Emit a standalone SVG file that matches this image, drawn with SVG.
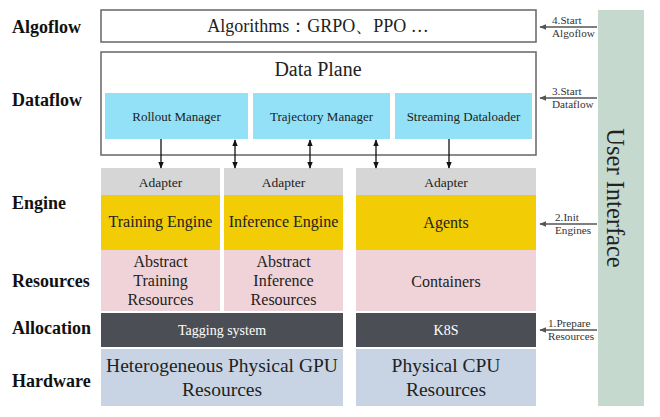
<svg xmlns="http://www.w3.org/2000/svg" width="660" height="417" viewBox="0 0 660 417" font-family="'Liberation Serif','Times New Roman','DejaVu Serif',serif">
<defs>
<marker id="ah" viewBox="0 0 10 10" refX="9" refY="5" markerWidth="7" markerHeight="7" orient="auto-start-reverse" markerUnits="userSpaceOnUse"><path d="M0,1 L10,5 L0,9 z" fill="#111"/></marker>
<marker id="ahg" viewBox="0 0 10 10" refX="9" refY="5" markerWidth="7" markerHeight="7" orient="auto" markerUnits="userSpaceOnUse"><path d="M0,1 L10,5 L0,9 z" fill="#555"/></marker>
</defs>
<style>
text{font-family:'Liberation Serif','Times New Roman','DejaVu Serif',serif;fill:#222}
.lbl{font-weight:bold;font-size:18px;fill:#111}
.box{fill:#fff;stroke:#666;stroke-width:1.5}
.mgr{fill:#93E1F6}
.adp{fill:#D6D6D6}
.eng{fill:#F2CD05}
.res{fill:#F0D3D8}
.alc{fill:#4B4E54}
.hw{fill:#C8D4E3}
.ui{fill:#C5D9CE}
.s13{font-size:13px}
.adt{font-size:13.5px}
.s14{font-size:16px}
.s17{font-size:19.5px}
.side{font-size:11.2px;fill:#333}
.w{fill:#fff;font-size:14px}
.c{text-anchor:middle}
.conn{stroke:#111;stroke-width:1.3;fill:none}
.connG{stroke:#555;stroke-width:1.3;fill:none}
</style>
<rect width="660" height="417" fill="#fff"/>
<g id="layer-labels">
<text class="lbl" x="12" y="33">Algoflow</text>
<text class="lbl" x="12" y="106">Dataflow</text>
<text class="lbl" x="12" y="209">Engine</text>
<text class="lbl" x="12" y="287">Resources</text>
<text class="lbl" x="12" y="334">Allocation</text>
<text class="lbl" x="12" y="387">Hardware</text>
</g>
<g id="algoflow">
<rect class="box" x="101" y="10" width="435" height="32"/>
<text class="c" x="318" y="32" font-size="18">Algorithms：GRPO、PPO …</text>
</g>
<g id="dataplane">
<rect class="box" x="101" y="52" width="435" height="103"/>
<text class="c" x="318" y="76" font-size="20">Data Plane</text>
</g>
<g id="rollout-manager"><rect class="mgr" x="105" y="93" width="143" height="46"/><text class="s13 c" x="176.5" y="121">Rollout Manager</text></g>
<g id="trajectory-manager"><rect class="mgr" x="253" y="93" width="137" height="46"/><text class="s13 c" x="321.5" y="121">Trajectory Manager</text></g>
<g id="streaming-dataloader"><rect class="mgr" x="395" y="93" width="137" height="46"/><text class="s13 c" x="463.5" y="121">Streaming Dataloader</text></g>
<g id="col-training">
<rect class="adp" x="101" y="168" width="119" height="27"/><text class="adt c" x="160.5" y="187">Adapter</text>
<rect class="eng" x="101" y="195" width="119" height="55"/><text class="s14 c" x="160.5" y="227">Training Engine</text>
<rect class="res" x="101" y="250" width="119" height="61"/>
<text class="s14 c" x="160.5" y="267">Abstract</text><text class="s14 c" x="160.5" y="286">Training</text><text class="s14 c" x="160.5" y="305">Resources</text>
</g>
<g id="col-inference">
<rect class="adp" x="224" y="168" width="119" height="27"/><text class="adt c" x="283.5" y="187">Adapter</text>
<rect class="eng" x="224" y="195" width="119" height="55"/><text class="s14 c" x="283.5" y="227">Inference Engine</text>
<rect class="res" x="224" y="250" width="119" height="61"/>
<text class="s14 c" x="283.5" y="267">Abstract</text><text class="s14 c" x="283.5" y="286">Inference</text><text class="s14 c" x="283.5" y="305">Resources</text>
</g>
<g id="col-agents">
<rect class="adp" x="356" y="168" width="180" height="27"/><text class="adt c" x="446" y="187">Adapter</text>
<rect class="eng" x="356" y="195" width="180" height="55"/><text class="s14 c" x="446" y="228">Agents</text>
<rect class="res" x="356" y="250" width="180" height="61"/><text class="s14 c" x="446" y="287">Containers</text>
</g>
<g id="tagging"><rect class="alc" x="101" y="313" width="242" height="34"/><text class="c w" x="222" y="335">Tagging system</text></g>
<g id="k8s"><rect class="alc" x="356" y="313" width="180" height="34"/><text class="c w" x="446" y="335">K8S</text></g>
<g id="gpu"><rect class="hw" x="101" y="349" width="242" height="57"/><text class="s17 c" x="222" y="372">Heterogeneous Physical GPU</text><text class="s17 c" x="222" y="396">Resources</text></g>
<g id="cpu"><rect class="hw" x="356" y="349" width="180" height="57"/><text class="s17 c" x="446" y="372">Physical CPU</text><text class="s17 c" x="446" y="396">Resources</text></g>
<g id="user-interface"><rect class="ui" x="598" y="10" width="46" height="396"/><text class="c" transform="translate(607,198) rotate(90)" font-size="24.5" fill="#222">User Interface</text></g>
<g id="connectors">
<line class="conn" x1="161" y1="139" x2="161" y2="168" marker-end="url(#ah)"/>
<line class="conn" x1="235" y1="140" x2="235" y2="168" marker-start="url(#ah)" marker-end="url(#ah)"/>
<line class="conn" x1="310" y1="140" x2="310" y2="168" marker-start="url(#ah)" marker-end="url(#ah)"/>
<line class="conn" x1="376" y1="140" x2="376" y2="168" marker-start="url(#ah)" marker-end="url(#ah)"/>
<line class="conn" x1="449" y1="139" x2="449" y2="168" marker-end="url(#ah)"/>
<line class="connG" x1="597" y1="27" x2="540" y2="27" marker-end="url(#ahg)"/>
<line class="connG" x1="597" y1="98" x2="540" y2="98" marker-end="url(#ahg)"/>
<line class="connG" x1="597" y1="224" x2="540" y2="224" marker-end="url(#ahg)"/>
<line class="connG" x1="597" y1="330" x2="540" y2="330" marker-end="url(#ahg)"/>
<text class="side" x="552" y="24">4.Start</text><text class="side" x="552" y="37">Algoflow</text>
<text class="side" x="552" y="95">3.Start</text><text class="side" x="552" y="108">Dataflow</text>
<text class="side" x="555" y="221">2.Init</text><text class="side" x="555" y="234">Engines</text>
<text class="side" x="548" y="327">1.Prepare</text><text class="side" x="548" y="340">Resources</text>
</g>
</svg>
